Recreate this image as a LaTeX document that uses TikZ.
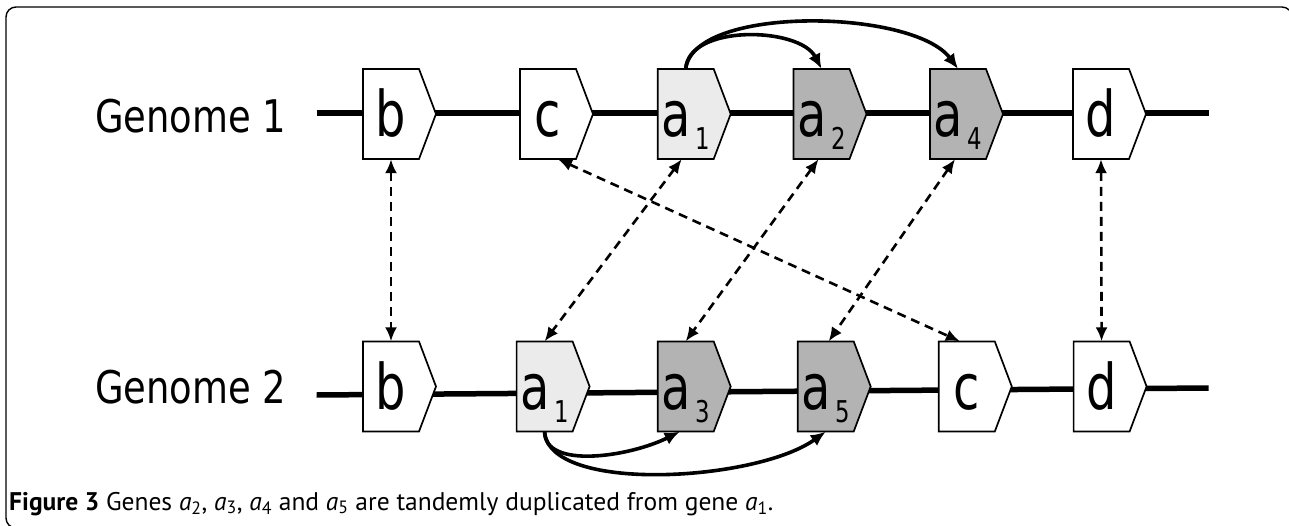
\documentclass[tikz,border=0pt]{standalone}
\usepackage{fontspec}
\setmainfont{DejaVu Sans}
\newfontfamily\capfont{PT Sans}
\usetikzlibrary{arrows.meta}
\definecolor{dupgray}{HTML}{B3B3B3}
\definecolor{origgray}{HTML}{EBEBEB}
\tikzset{
	genebox/.style={line width=1.7pt, line join=miter},
	genetext/.style={minimum width=56pt, minimum height=90pt, inner sep=0pt, text height=46pt, text depth=0pt},
	chromline/.style={line width=5.5pt},
	homolog/.style={line width=2.6pt, dash pattern=on 9pt off 6pt, {Latex[length=14pt,width=12pt]}-{Latex[length=14pt,width=12pt]}},
	dupline/.style={line width=3.6pt, -{Latex[length=15pt,width=13pt]}},
	genomelabel/.style={anchor=base west, inner sep=0pt}
}
\def\gene[#1](#2,#3)#4#5{\draw[genebox, fill=#1] (#2-28,#3-45) -- (#2+28,#3-45) -- (#2+45,#3) -- (#2+28,#3+45) -- (#2-28,#3+45) -- cycle;
	\node[genetext] (#4) at (#2,#3) {#5};}
\newcommand{\gsym}[1]{\scalebox{0.76}[1]{\fontsize{63}{63}\selectfont #1}}
\newcommand{\gsub}[2]{\scalebox{0.76}[1]{\fontsize{63}{63}\selectfont #1\hspace{6pt}\raisebox{-13pt}{\fontsize{30}{30}\selectfont #2}}}

\begin{document}
\begin{tikzpicture}[x=1pt, y=-1pt]
		%%%%% START %%%%%
		\useasboundingbox (0,0) rectangle (1289,526);
		\draw[line width=1.4pt, rounded corners=10pt] (40,528) -- (6,528) -- (6,7) -- (1292,7) -- (1292,40);
		
		\node[genomelabel] (g1label) at (95,133) {\scalebox{0.82}[1]{\fontsize{45}{45}\selectfont Genome 1}};
		\node[genomelabel] (g2label) at (95,403) {\scalebox{0.82}[1]{\fontsize{45}{45}\selectfont Genome 2}};
		
		\coordinate (g1start) at (316.6,113);
		\coordinate (g1end) at (1208.5,113);
		\coordinate (g2start) at (316.6,395);
		\coordinate (g2end) at (1208.5,388);
		\draw[chromline] (g1start) -- (g1end);
		\draw[chromline] (g2start) -- (g2end);
		
		% genome 1
		\gene[white](391,114){b1}{\gsym{b}}
		\gene[white](548,114){c1}{\gsym{c}}
		\gene[origgray](685.7,114){a1}{\gsub{a}{1}}
		\gene[dupgray](821.5,114){a2}{\gsub{a}{2}}
		\gene[dupgray](958,114){a4}{\gsub{a}{4}}
		\gene[white](1101,114){d1}{\gsym{d}}
		
		% genome 2
		\gene[white](391,386.5){b2}{\gsym{b}}
		\gene[origgray](544.6,386.5){a1b}{\gsub{a}{1}}
		\gene[dupgray](685.7,386.5){a3}{\gsub{a}{3}}
		\gene[dupgray](825.7,386.5){a5}{\gsub{a}{5}}
		\gene[white](966.8,386.5){c2}{\gsym{c}}
		\gene[white](1101.6,386.5){d2}{\gsym{d}}
		
		% orthologous pairs
		\draw[homolog] (b1.south) -- (b2.north);
		\draw[homolog] ([xshift=10pt]c1.south) -- ([xshift=-7pt]c2.north);
		\draw[homolog] ([xshift=-4pt]a1.south) -- (a1b.north);
		\draw[homolog] ([xshift=-3pt]a2.south) -- (a3.north);
		\draw[homolog] ([xshift=-3pt]a4.south) -- ([xshift=3pt]a5.north);
		\draw[homolog] (d1.south) -- (d2.north);
		
		% tandem duplications
		\draw[dupline] (a1.north) .. controls +(3,-45) and +(-22,-42) .. (a2.north);
		\draw[dupline] (a1.north) .. controls +(8,-64) and +(-45,-60) .. (a4.north);
		\draw[dupline] (a1b.south) .. controls +(0,38) and +(-50,25) .. ([xshift=-6pt]a3.south);
		\draw[dupline] (a1b.south) .. controls +(4,62) and +(-70,50) .. (a5.south);
		
		\node[anchor=base west, inner sep=0pt, font=\capfont\fontsize{25.5}{25.5}\selectfont] (caption) at (9,510)
			{\textbf{Figure 3} Genes \textit{a}\textsubscript{2}, \textit{a}\textsubscript{3}, \textit{a}\textsubscript{4} and \textit{a}\textsubscript{5} are tandemly duplicated from gene \textit{a}\textsubscript{1}.};
		%%%%% END %%%%%
\end{tikzpicture}
\end{document}
